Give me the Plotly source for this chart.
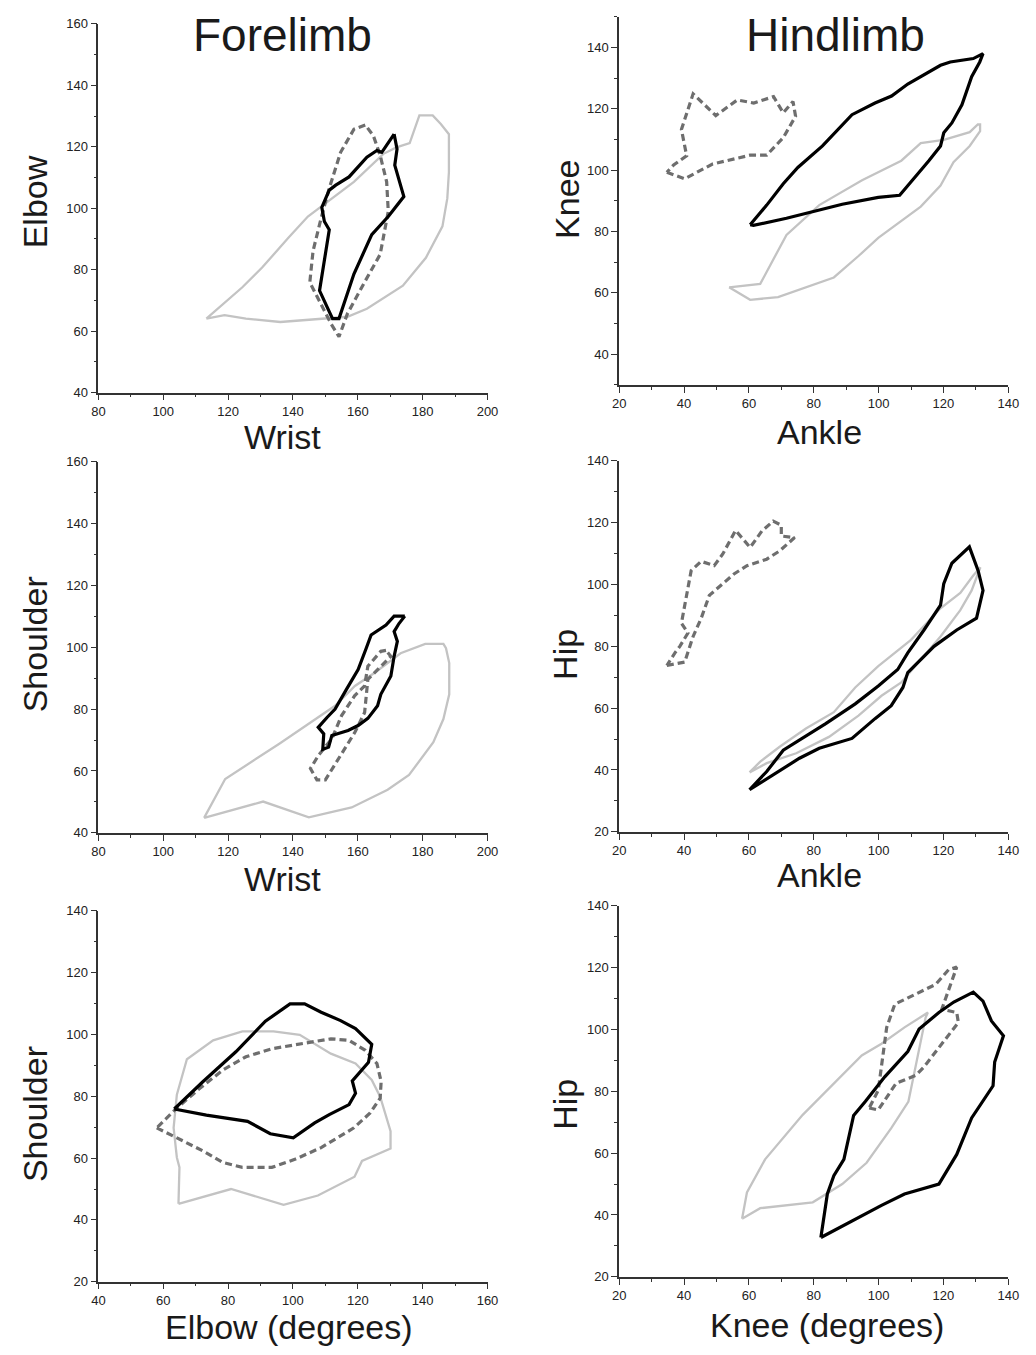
import plotly.graph_objects as go

# ---------------- Forelimb: Elbow vs Wrist ----------------
FW_E_GRAY_X = [113.3, 118.9, 125.5, 136.1, 156.8, 162.8, 173.9, 181.0, 186.1, 187.6, 188.1, 188.1,
               185.6, 183.1, 179.0, 176.0, 171.9, 167.9, 158.8, 152.7, 144.6, 138.6, 130.5, 124.4]
FW_E_GRAY_Y = [64.1, 65.2, 64.1, 63.0, 64.7, 67.3, 74.8, 83.9, 94.1, 103.2, 111.8, 124.1,
               127.4, 130.2, 130.2, 121.2, 119.8, 117.7, 108.6, 103.8, 97.3, 90.4, 80.7, 74.3]
FW_E_DASH_X = [162.3, 158.8, 154.7, 151.2, 148.7, 146.2, 145.2, 148.7, 151.7, 154.2, 156.8, 161.8,
               166.9, 169.4, 168.9, 166.9, 164.8]
FW_E_DASH_Y = [127.1, 125.7, 118.2, 106.5, 96.8, 86.1, 75.9, 68.9, 62.5, 58.2, 65.7, 75.4,
               85.0, 99.0, 108.6, 117.2, 123.6]
FW_E_BLACK_X = [171.2, 172.1, 171.4, 174.2, 169.4, 164.3, 158.8, 154.2, 152.2, 148.2, 151.2, 149.7,
                148.9, 151.2, 153.2, 157.3, 162.8, 165.9, 167.4]
FW_E_BLACK_Y = [124.1, 119.3, 114.0, 103.8, 97.3, 91.4, 78.6, 64.1, 64.1, 73.2, 93.0, 95.7,
                100.3, 105.9, 107.5, 110.2, 116.6, 118.8, 118.2]

# ---------------- Hindlimb: Knee vs Ankle ----------------
HA_K_GRAY_X = [53.9, 63.5, 71.6, 81.7, 94.9, 107.0, 113.0, 120.1, 128.1, 130.6, 131.3, 131.3,
               128.1, 123.1, 119.1, 113.0, 99.9, 93.8, 86.2, 77.6, 69.0, 60.4]
HA_K_GRAY_Y = [61.8, 62.9, 78.9, 88.6, 96.7, 103.1, 108.8, 109.9, 112.4, 114.9, 114.9, 112.7,
               107.9, 102.6, 95.0, 88.1, 77.9, 72.0, 65.0, 61.8, 58.6, 57.7]
HA_K_DASH_X = [34.7, 40.2, 48.8, 57.4, 60.4, 65.5, 70.6, 74.4, 73.6, 70.6, 67.6, 61.5,
               56.4, 49.8, 42.8, 39.2, 40.8, 36.8]
HA_K_DASH_Y = [99.3, 97.2, 102.0, 104.2, 104.9, 104.9, 110.6, 117.6, 122.4, 118.7, 124.0, 121.9,
               122.9, 117.8, 124.9, 113.3, 104.7, 101.7]
HA_K_BLACK_X = [60.4, 65.5, 70.6, 75.1, 82.7, 91.8, 98.9, 104.0, 109.0, 119.1, 122.1, 129.2,
                132.2, 131.2, 128.7, 125.7, 122.6, 120.1, 119.1, 115.5, 106.5, 99.9, 88.8,
                79.7, 71.6, 61.4]
HA_K_BLACK_Y = [82.2, 88.6, 95.6, 100.9, 107.9, 118.1, 121.9, 124.2, 128.1, 134.2, 135.3, 136.4,
                138.0, 135.3, 130.5, 121.3, 115.4, 112.2, 107.9, 103.1, 91.8, 91.1, 88.9,
                86.5, 84.3, 82.0]

# ---------------- Forelimb: Shoulder vs Wrist ----------------
FW_S_GRAY_X = [112.6, 119.1, 135.8, 145.4, 153.0, 159.1, 165.1, 173.2, 180.8, 186.4, 187.2, 188.2,
               188.2, 186.4, 183.3, 175.8, 169.2, 158.1, 144.9, 130.8]
FW_S_GRAY_Y = [44.8, 57.4, 68.8, 75.7, 81.1, 87.5, 91.7, 98.1, 101.1, 101.1, 99.7, 94.9,
               84.8, 76.8, 69.3, 58.7, 53.9, 48.2, 45.0, 50.1]
FW_S_DASH_X = [168.7, 167.1, 163.1, 162.1, 159.0, 155.0, 152.0, 147.9, 145.4, 147.4, 150.0, 154.0,
               159.1, 162.1, 162.6, 163.1, 170.2]
FW_S_DASH_Y = [99.0, 98.7, 93.9, 87.5, 84.3, 77.9, 70.4, 65.1, 60.8, 57.1, 57.1, 64.0,
               72.5, 78.9, 83.2, 89.6, 97.1]
FW_S_BLACK_X = [174.5, 171.2, 168.7, 164.1, 162.6, 160.1, 156.5, 153.0, 150.5, 147.8, 149.5, 149.2,
                151.0, 152.0, 157.0, 160.1, 163.1, 166.1, 167.1, 170.2, 171.2, 172.2, 171.2, 172.7]
FW_S_BLACK_Y = [110.1, 110.1, 107.2, 104.0, 99.7, 92.8, 86.4, 80.0, 77.3, 74.1, 72.0, 67.0,
                67.7, 71.5, 73.1, 74.7, 77.0, 81.1, 84.8, 90.7, 97.1, 101.9, 105.1, 107.7]

# ---------------- Hindlimb: Hip vs Ankle ----------------
HA_H_GRAY_X = [60.2, 63.5, 69.5, 77.6, 86.2, 92.8, 99.9, 110.0, 119.1, 125.2, 129.2, 131.4,
               128.7, 125.2, 119.1, 113.0, 107.0, 100.9, 93.8, 84.7, 74.6, 65.5]
HA_H_GRAY_Y = [39.2, 42.7, 47.5, 53.4, 58.7, 66.7, 73.6, 82.1, 92.3, 97.3, 102.9, 105.6,
               98.1, 91.7, 83.2, 75.7, 68.3, 64.0, 57.6, 50.7, 45.4, 42.2]
HA_H_DASH_X = [34.7, 40.2, 42.8, 45.3, 47.8, 55.4, 59.4, 65.5, 69.5, 74.1, 70.0, 70.0,
               67.5, 64.0, 60.4, 55.9, 51.9, 49.3, 45.3, 42.2, 39.2, 41.2, 38.7, 37.2]
HA_H_DASH_Y = [73.8, 74.9, 83.2, 89.1, 96.5, 103.4, 106.1, 108.2, 110.9, 115.2, 115.7, 119.2,
               120.5, 117.3, 112.0, 117.5, 109.8, 106.1, 107.5, 104.5, 87.5, 84.3, 80.0, 77.9]
HA_H_BLACK_X = [60.2, 65.5, 70.6, 75.6, 83.7, 92.8, 99.9, 105.9, 109.0, 114.0, 119.1, 120.1,
                122.6, 128.0, 130.7, 132.2, 130.2, 124.1, 117.1, 109.0, 107.5, 103.9, 98.9,
                91.8, 81.7, 75.6]
HA_H_BLACK_Y = [33.6, 39.5, 46.4, 49.6, 55.0, 61.4, 67.2, 72.5, 77.9, 85.3, 93.3, 100.3,
                106.9, 112.2, 104.5, 98.1, 89.1, 85.3, 80.0, 71.5, 66.7, 60.8, 56.6,
                50.2, 47.0, 43.8]

# ---------------- Forelimb: Shoulder vs Elbow ----------------
FE_S_GRAY_X = [64.7, 80.9, 97.1, 107.7, 119.0, 121.3, 130.1, 130.1, 126.9, 124.3, 119.3, 111.7,
               102.1, 94.0, 84.4, 75.4, 67.3, 64.2, 63.2, 64.2, 65.0]
FE_S_GRAY_Y = [45.2, 50.0, 44.9, 47.9, 54.0, 59.1, 63.1, 68.7, 79.9, 85.3, 90.6, 93.8,
               99.9, 101.0, 101.0, 98.1, 92.0, 80.5, 69.8, 60.2, 57.0]
FE_S_DASH_X = [58.0, 64.2, 72.3, 78.4, 84.4, 93.5, 100.6, 108.7, 118.8, 123.8, 126.9, 127.2,
               125.9, 122.3, 117.3, 111.7, 102.6, 93.5, 85.5, 78.4, 71.3, 64.2]
FE_S_DASH_Y = [69.8, 66.6, 62.3, 58.6, 57.0, 57.0, 59.6, 63.4, 69.8, 74.6, 79.4, 84.8,
               90.6, 94.9, 98.1, 98.6, 97.0, 95.4, 92.8, 88.5, 82.6, 76.2]
FE_S_BLACK_X = [63.4, 72.3, 82.4, 91.5, 99.1, 103.6, 108.7, 114.7, 119.3, 124.3, 123.3, 120.3,
                118.3, 119.3, 117.3, 111.2, 106.7, 100.1, 93.0, 86.0, 73.3]
FE_S_BLACK_Y = [75.9, 84.8, 94.4, 104.3, 109.9, 109.9, 107.2, 104.5, 101.9, 96.8, 91.0, 87.4,
                85.0, 81.0, 77.3, 74.1, 71.4, 66.6, 67.9, 71.9, 73.9]

# ---------------- Hindlimb: Hip vs Knee ----------------
HK_H_GRAY_X = [57.9, 59.4, 65.0, 76.6, 94.8, 100.9, 108.0, 115.2, 114.5, 113.0, 109.2, 103.9,
               96.3, 88.8, 79.7, 63.5]
HK_H_GRAY_Y = [38.8, 47.3, 58.0, 72.4, 91.6, 95.4, 100.7, 105.5, 103.9, 95.9, 76.7, 68.1,
               56.9, 50.0, 44.1, 42.2]
HK_H_DASH_X = [97.1, 99.9, 105.4, 111.5, 114.0, 124.6, 124.1, 119.5, 124.1, 121.6, 117.6, 105.0,
               102.5, 99.9]
HK_H_DASH_Y = [74.6, 74.0, 82.6, 85.2, 87.9, 102.3, 105.5, 106.6, 120.2, 119.4, 114.6, 108.2,
               100.7, 80.4]
HK_H_BLACK_X = [82.2, 84.2, 86.2, 89.3, 92.3, 95.9, 101.9, 109.0, 112.5, 118.6, 123.2, 129.2,
                132.2, 134.8, 138.5, 135.8, 135.3, 128.7, 124.1, 118.6, 108.0, 100.9]
HK_H_BLACK_Y = [32.7, 46.8, 52.7, 58.0, 72.2, 76.7, 84.7, 92.9, 100.2, 105.5, 108.9, 112.1,
                109.2, 102.8, 98.0, 89.5, 81.8, 71.4, 59.6, 50.0, 46.8, 43.1]

# Axis titles and ranges per panel
PANEL_XTITLES = ["Wrist", "Ankle", "Wrist", "Ankle", "Elbow (degrees)", "Knee (degrees)"]
PANEL_YTITLES = ["Elbow", "Knee", "Shoulder", "Hip", "Shoulder", "Hip"]
PANEL_XRANGES = [[80, 200], [20, 140], [80, 200], [20, 140], [40, 160], [20, 140]]
PANEL_YRANGES = [[40, 160], [30, 150], [40, 160], [20, 140], [20, 140], [20, 140]]
COLUMN_TITLES = ["Forelimb", "Hindlimb"]

W, H = 1036, 1355

# Pixel boxes of each plotting area: (left, right, top, bottom)
BOXES = [
    (93, 489, 17, 390),
    (623, 1019, 10, 382),
    (93, 489, 460, 835),
    (623, 1019, 459, 834),
    (93, 489, 914, 1289),
    (623, 1019, 909, 1284),
]

panels = [
    (FW_E_GRAY_X, FW_E_GRAY_Y, FW_E_DASH_X, FW_E_DASH_Y, FW_E_BLACK_X, FW_E_BLACK_Y),
    (HA_K_GRAY_X, HA_K_GRAY_Y, HA_K_DASH_X, HA_K_DASH_Y, HA_K_BLACK_X, HA_K_BLACK_Y),
    (FW_S_GRAY_X, FW_S_GRAY_Y, FW_S_DASH_X, FW_S_DASH_Y, FW_S_BLACK_X, FW_S_BLACK_Y),
    (HA_H_GRAY_X, HA_H_GRAY_Y, HA_H_DASH_X, HA_H_DASH_Y, HA_H_BLACK_X, HA_H_BLACK_Y),
    (FE_S_GRAY_X, FE_S_GRAY_Y, FE_S_DASH_X, FE_S_DASH_Y, FE_S_BLACK_X, FE_S_BLACK_Y),
    (HK_H_GRAY_X, HK_H_GRAY_Y, HK_H_DASH_X, HK_H_DASH_Y, HK_H_BLACK_X, HK_H_BLACK_Y),
]

FONT = "Arial, Liberation Sans, sans-serif"


def closed(v):
    return list(v) + [v[0]]


fig = go.Figure()
layout = dict(
    width=W, height=H,
    margin=dict(l=0, r=0, t=0, b=0),
    paper_bgcolor="white", plot_bgcolor="white",
    showlegend=False,
    font=dict(family=FONT, color="#222"),
)

annotations = []
for i, (gx, gy, dx, dy, bx, by) in enumerate(panels):
    n = i + 1
    xa = "x" if n == 1 else f"x{n}"
    ya = "y" if n == 1 else f"y{n}"
    fig.add_trace(go.Scatter(x=closed(gx), y=closed(gy), mode="lines", xaxis=xa, yaxis=ya,
                             line=dict(color="#c3c3c3", width=2.3)))
    fig.add_trace(go.Scatter(x=closed(dx), y=closed(dy), mode="lines", xaxis=xa, yaxis=ya,
                             line=dict(color="#6e6e6e", width=3.2, dash="7px,4px")))
    fig.add_trace(go.Scatter(x=closed(bx), y=closed(by), mode="lines", xaxis=xa, yaxis=ya,
                             line=dict(color="#000000", width=3.2)))

    l, r, t, b = BOXES[i]
    xr, yr = PANEL_XRANGES[i], PANEL_YRANGES[i]
    ax_common = dict(
        showline=True, linecolor="#333", linewidth=1.5, mirror=False,
        showgrid=False, zeroline=False,
        ticks="outside", ticklen=6, tickwidth=1.3, tickcolor="#333",
        tickfont=dict(family=FONT, size=13, color="#222"),
        dtick=20,
        minor=dict(ticks="outside", ticklen=3, tickwidth=1.3, tickcolor="#333", dtick=10, showgrid=False),
        fixedrange=True,
    )
    layout[f"xaxis{'' if n == 1 else n}"] = dict(
        ax_common, domain=[l / W, r / W], range=xr, tick0=xr[0], anchor=ya,
    )
    y_tick0 = 40 if yr[0] == 30 else yr[0]
    layout[f"yaxis{'' if n == 1 else n}"] = dict(
        ax_common, domain=[1 - b / H, 1 - t / H], range=yr, tick0=y_tick0, anchor=xa,
    )

# Axis titles placed in pixel terms
XTITLE_POS = [(280, 435), (827, 430), (280, 882), (827, 878), (287, 1335), (835, 1333)]
YTITLE_POS = [(28, 197), (570, 195), (28, 645), (568, 655), (28, 1120), (568, 1110)]
for i in range(6):
    x, y = XTITLE_POS[i]
    annotations.append(dict(text=PANEL_XTITLES[i], x=x / W, y=1 - y / H, xref="paper", yref="paper",
                            showarrow=False, xanchor="center", yanchor="middle",
                            font=dict(family=FONT, size=34, color="#1a1a1a")))
    x, y = YTITLE_POS[i]
    annotations.append(dict(text=PANEL_YTITLES[i], x=x / W, y=1 - y / H, xref="paper", yref="paper",
                            showarrow=False, xanchor="center", yanchor="middle", textangle=-90,
                            font=dict(family=FONT, size=34, color="#1a1a1a")))

for txt, cx in zip(COLUMN_TITLES, [280, 843]):
    annotations.append(dict(text=txt, x=cx / W, y=1 - 28 / H, xref="paper", yref="paper",
                            showarrow=False, xanchor="center", yanchor="middle",
                            font=dict(family=FONT, size=46, color="#1a1a1a")))

layout["annotations"] = annotations
fig.update_layout(**layout)
fig.write_html("out.html")
